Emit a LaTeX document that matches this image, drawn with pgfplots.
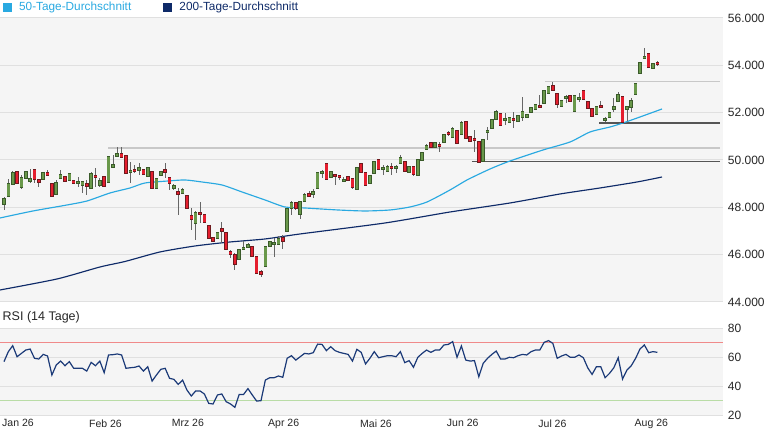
\documentclass[border=0pt]{standalone}
\usepackage{pgfplots}
\pgfplotsset{compat=1.18}
\usepackage{pgfplotstable}
\usepackage{fontspec}
\setmainfont{Liberation Sans}
\definecolor{c50}{HTML}{29A9E1}
\definecolor{c200}{HTML}{0E2A68}
\definecolor{rsic}{HTML}{1B3A78}
\definecolor{cg}{HTML}{69984A}
\definecolor{cgd}{HTML}{3A5A2A}
\definecolor{cr}{HTML}{E51E2E}
\definecolor{crd}{HTML}{6E1A1E}
\definecolor{wickc}{HTML}{666666}
\definecolor{bgc}{HTML}{F5F5F5}
\definecolor{gridc}{HTML}{E0E0E0}
\definecolor{r70}{HTML}{F08A8A}
\definecolor{g30}{HTML}{B9DCA6}
\definecolor{lgl}{HTML}{C8C8C8}
\definecolor{dgl}{HTML}{555555}
\definecolor{txt}{HTML}{262626}

\pgfplotstableread{
i o h l c
0 48141 48437 47888 48353
1 48480 49198 48437 48987
2 48987 49536 48944 49451
4 48860 49367 48775 49240
5 49240 49536 49198 49494
6 49113 49620 49029 49198
9 49198 49494 49156 49451
12 48564 49156 48522 49029
13 49240 49578 49198 49367
15 49156 49451 49113 49409
17 49029 49282 48860 49071
18 48944 49113 48606 49071
20 48818 49494 48775 49409
22 48944 49240 48860 49113
24 49071 50170 49029 50128
25 49705 50212 49663 49789
26 50170 50550 50128 50254
29 49494 49916 49029 49536
31 49578 49874 49367 49663
33 49325 49705 49282 49663
35 48818 49240 48775 49198
36 49367 49536 49325 49494
39 48818 48987 48733 48902
41 48606 48818 48564 48733
44 47339 47846 46621 47761
49 46705 46959 46663 46916
54 45818 46240 45776 46198
55 46240 46578 46198 46282
56 46325 46494 46282 46409
60 45522 46367 45480 46325
61 46367 46578 46325 46536
62 46452 46705 45902 46494
63 46452 46790 46409 46663
65 47001 47972 46959 47930
66 47972 48268 47677 48184
68 47719 48268 47508 48226
69 48268 48606 48226 48522
71 48564 48775 48395 48649
72 48818 49494 48775 49451
73 49451 49578 49240 49494
75 49282 49536 49240 49494
78 49113 49282 49071 49156
81 48775 49705 48733 49663
84 49029 49367 48987 49325
85 49451 49958 49409 49916
87 49620 49789 49367 49663
88 49536 49789 49494 49705
90 49663 49789 49451 49705
91 49874 50212 49832 50085
93 49494 49747 49451 49705
95 49367 50043 49325 50001
96 50001 50339 49958 50296
97 50465 50677 50423 50592
99 50550 50761 50508 50719
101 50761 51099 50719 51057
103 50972 51395 50930 51311
105 51099 51649 51057 51564
110 49958 50888 49916 50846
111 51184 51395 50846 51226
112 51353 51733 51311 51691
113 51733 52113 51691 52029
115 51691 51987 51480 51733
116 51606 51818 51564 51775
118 51649 51902 51606 51860
119 51818 52663 51649 52029
120 51818 51944 51775 51902
121 52029 52240 51987 52198
122 52156 52367 52113 52325
124 52409 52958 52367 52916
125 52832 53127 52789 53085
128 52282 52536 52240 52494
129 52620 52747 52409 52663
131 52071 52747 52029 52705
132 52578 52832 52451 52620
136 51944 52282 51902 52240
138 51691 51818 51606 51733
139 51818 52029 51775 51987
140 52156 52620 52029 52240
141 52494 52874 52451 52747
143 52156 52282 51649 52240
144 52240 52620 52029 52494
145 52789 53254 52747 53212
146 53676 54141 53634 54099
147 54310 54733 54310 54352
149 53888 54099 53845 54057
}\greentab

\pgfplotstableread{
i o h l c
3 49494 49536 48987 49029
7 49578 49620 49029 49198
8 49156 49198 48860 49071
10 49451 49578 49325 49367
11 48987 49029 48437 48480
14 49282 49325 49071 49113
16 49113 49156 48987 49029
19 48987 49156 48522 48902
21 49325 49663 48860 49282
23 49282 49325 48860 48902
27 50254 50550 50085 50128
28 50170 50212 49409 49451
30 49578 49789 49451 49536
32 49578 49620 49367 49409
34 49494 49536 48775 48818
37 49578 49874 49240 49494
38 49240 49282 48733 49029
40 48649 48818 47677 48564
42 48480 48522 47930 47972
43 47634 47972 47043 47508
45 47761 48226 47339 47719
46 47677 47719 47339 47381
47 47212 47254 46663 46705
48 46705 46747 46536 46578
50 47085 47381 46494 47001
51 46916 46959 46198 46240
52 46114 46198 45860 46029
53 45987 46071 45353 45607
57 46325 46367 45902 45945
58 45902 45945 45184 45227
59 45269 45353 45058 45184
64 46705 46832 46240 46578
67 48184 48226 47888 47972
70 48564 48691 48437 48480
74 49832 49874 49156 49198
76 49367 49409 48944 49325
77 49325 49367 49156 49282
79 49282 49325 49113 49156
80 49198 49240 48775 48860
82 49832 49874 49451 49494
83 49451 49494 48902 48944
86 50001 50043 49578 49620
89 49705 49874 49367 49663
92 49916 49958 49494 49536
94 49705 49747 49325 49409
98 50719 50761 50508 50550
100 50634 50761 50339 50592
102 51141 51226 51015 51099
104 51226 51268 50677 50719
106 51606 51649 50888 50930
107 50972 51015 50761 50803
108 50888 51268 50339 50846
109 50761 50803 49874 49916
114 51944 51987 51437 51480
117 51733 52029 51353 51691
123 52282 52747 52198 52240
126 53127 53296 52916 52958
127 52789 52832 52198 52367
130 52705 52747 52451 52494
133 52916 52958 52536 52578
134 52451 52494 52156 52198
135 52156 52198 51818 51860
137 52282 52494 52198 52240
142 52663 52705 51564 51606
148 54479 54521 53888 53930
150 54099 54183 53972 54057
}\redtab

\pgfplotstableread{
i m
-0.92 47550
6.66 47846
14.46 48099
19.05 48268
24.33 48606
28.93 48818
32.37 49029
37.65 49113
41.55 49156
45.45 49071
50.05 48944
54.64 48649
59.92 48311
64.51 48015
69.1 47972
76.68 47888
82.87 47846
88.61 47888
93.2 48015
97.11 48226
102.39 48733
106.29 49156
111.57 49620
116.16 49958
123.74 50423
129.94 50761
134.53 51184
139.12 51395
142.1 51564
146.01 51818
151.06 52156
}\mafifty

\pgfplotstableread{
i m
-0.92 44508
12.17 44973
22.04 45480
27.78 45712
35.81 46114
43.85 46367
51.88 46536
59.92 46663
67.95 46874
87.47 47339
102.39 47803
116.16 48184
127.64 48564
136.82 48818
145.32 49071
151.06 49282
}\matwo

\pgfplotstableread{
i r
0 56.8
1 63.7
2 67.8
3 60.2
4 62.5
5 64.8
6 65.5
7 59.1
8 58.6
9 61.8
10 60.7
11 47.6
12 54.5
13 57.2
14 54.0
15 56.8
16 52.2
17 52.2
18 52.2
19 50.3
20 56.3
21 54.0
22 57.2
23 49.2
24 61.4
25 61.6
26 62.1
27 61.4
28 52.2
29 52.6
30 52.9
31 53.8
32 50.3
33 53.3
34 43.4
35 47.6
36 51.5
37 52.2
38 45.3
39 44.6
40 41.1
41 44.1
42 37.2
43 33.1
44 36.6
45 36.6
46 34.5
47 28.0
48 27.6
49 33.8
50 34.5
51 29.2
52 27.6
53 25.3
54 34.2
55 34.2
56 38.2
57 33.8
58 29.6
59 29.9
60 44.1
61 45.7
62 45.7
63 46.9
64 46.0
65 59.1
66 60.9
67 57.9
68 60.2
69 62.5
70 62.1
71 63.0
72 68.9
73 68.7
74 64.4
75 67.1
76 64.4
77 63.2
78 62.5
79 61.8
80 57.2
81 65.3
82 63.2
83 55.2
84 59.1
85 63.7
86 59.5
87 60.2
88 60.9
89 60.9
90 60.2
91 63.7
92 56.1
93 57.5
94 52.9
95 59.8
96 62.5
97 64.8
98 63.2
99 64.8
100 64.8
101 68.3
102 68.7
103 70.6
104 59.8
105 67.6
106 57.9
107 57.2
108 57.5
109 46.4
110 55.6
111 59.1
112 61.8
113 64.1
114 58.6
115 58.6
116 59.8
117 59.5
118 60.9
119 61.8
120 61.4
121 63.7
122 64.8
123 64.8
124 70.1
125 71.3
126 69.4
127 59.1
128 60.7
129 61.8
130 59.8
131 59.8
132 61.4
133 59.5
134 52.6
135 48.0
136 53.3
137 53.3
138 45.7
139 48.7
140 52.6
141 59.5
142 44.8
143 51.0
144 54.0
145 59.1
146 65.5
147 68.3
148 63.0
149 63.7
150 63.2
}\rsitab

\pgfplotsset{
  candlebar/.style={draw=none, mark=none, forget plot,
    error bars/.cd, y dir=plus, y explicit, error mark=none,
    error bar style={#1}},
}

\begin{document}
\begin{tikzpicture}
\path[use as bounding box] (0pt,0pt) rectangle (765pt,-430pt);
\begin{axis}[
  at={(0pt,-18pt)}, anchor=north west,
  width=723pt, height=284pt, scale only axis,
  xmin=-0.918, xmax=165.06, ymin=44000, ymax=56000,
  axis line style={draw=none}, major tick length=0pt,
  xtick=\empty,
  ytick={44000,46000,48000,50000,52000,54000,56000},
  yticklabels={44.000,46.000,48.000,50.000,52.000,54.000,56.000},
  scaled y ticks=false,
  yticklabel pos=right,
  yticklabel style={anchor=west, inner sep=0pt, xshift=4.7pt, font=\fontsize{12}{14}\selectfont, text=txt},
  ymajorgrids, major grid style={draw=gridc, line width=1pt},
  axis background/.style={fill=bgc},
  legend columns=2, legend cell align=left,
  legend style={at={(0,1)}, anchor=south west, draw=none, fill=none,
    inner sep=0pt, outer sep=0pt, font=\fontsize{11.8}{14}\selectfont,
    /tikz/every odd column/.append style={column sep=5pt},
    /tikz/every even column/.append style={column sep=30pt},
    xshift=3pt, yshift=3.5pt},
]
% support / resistance lines
\addplot[forget plot, lgl, line width=1.4pt] coordinates {(23.9,50508) (164.4,50508)};
\addplot[forget plot, lgl, line width=1.4pt] coordinates {(124.2,53309) (164.4,53309)};
\addplot[forget plot, dgl, line width=1.4pt] coordinates {(107.4,49937) (164.4,49937)};
\addplot[forget plot, dgl, line width=1.4pt] coordinates {(136.6,51564) (164.4,51564)};
% moving averages
\addplot[c50, line width=1.15pt, smooth, tension=0.4,
  legend image code/.code={\fill[c50] (0pt,-4pt) rectangle (8pt,4pt);}]
  table[x=i, y=m] {\mafifty};
\addlegendentry{\textcolor{c50}{50-Tage-Durchschnitt}}
\addplot[c200, line width=1.15pt, smooth, tension=0.4,
  legend image code/.code={\fill[c200] (0pt,-4pt) rectangle (8pt,4pt);}]
  table[x=i, y=m] {\matwo};
\addlegendentry{\textcolor{c200}{200-Tage-Durchschnitt}}
% wicks
\addplot[candlebar={line width=0.8pt, draw=wickc}] table[x=i, y=l, y error expr=\thisrow{h}-\thisrow{l}] {\greentab};
\addplot[candlebar={line width=0.8pt, draw=wickc}] table[x=i, y=l, y error expr=\thisrow{h}-\thisrow{l}] {\redtab};
% bodies: outline then fill
\addplot[candlebar={line width=3.6pt, draw=cgd}] table[x=i, y expr=\thisrow{o}-25, y error expr=\thisrow{c}-\thisrow{o}+50] {\greentab};
\addplot[candlebar={line width=2.4pt, draw=cg}] table[x=i, y=o, y error expr=\thisrow{c}-\thisrow{o}] {\greentab};
\addplot[candlebar={line width=3.6pt, draw=crd}] table[x=i, y expr=\thisrow{c}-25, y error expr=\thisrow{o}-\thisrow{c}+50] {\redtab};
\addplot[candlebar={line width=2.4pt, draw=cr}] table[x=i, y=c, y error expr=\thisrow{o}-\thisrow{c}] {\redtab};
\end{axis}

\node[anchor=base west, inner sep=0pt, font=\fontsize{12.5}{15}\selectfont, text=txt] at (2.5pt,-320.7pt) {RSI (14 Tage)};

\begin{axis}[
  at={(0pt,-328pt)}, anchor=north west,
  width=723pt, height=87pt, scale only axis,
  xmin=-0.918, xmax=165.06, ymin=20, ymax=80,
  axis line style={draw=none}, major tick length=0pt,
  xtick={3.21,23.3,42.2,64.2,85.4,105.3,125.9,148.6},
  xticklabels={Jan 26,Feb 26,Mrz 26,Apr 26,Mai 26,Jun 26,Jul 26,Aug 26},
  xticklabel style={font=\fontsize{10.5}{12}\selectfont, text=txt, yshift=-1pt},
  ytick={20,40,60,80}, yticklabels={20,40,60,80},
  yticklabel pos=right,
  yticklabel style={anchor=west, inner sep=0pt, xshift=4.7pt, font=\fontsize{12}{14}\selectfont, text=txt},
  ymajorgrids, major grid style={draw=gridc, line width=1pt},
  axis background/.style={fill=bgc},
]
\addplot[r70, line width=1pt] coordinates {(-0.918,70) (165.06,70)};
\addplot[g30, line width=1.3pt] coordinates {(-0.918,30) (165.06,30)};
\addplot[rsic, line width=1.2pt] table[x=i, y=r] {\rsitab};
\end{axis}
\end{tikzpicture}
\end{document}
